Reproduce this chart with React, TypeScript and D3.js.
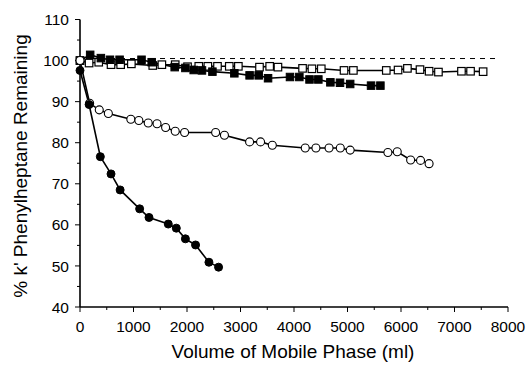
import React from "react";
import * as d3 from "d3";

const filledCircleX = [0, 170, 380, 580, 750, 1115, 1290, 1650, 1800, 1970, 2160, 2410, 2590];
const filledCircleY = [97.6, 89.3, 76.6, 72.4, 68.5, 63.9, 61.8, 60.2, 59.2, 56.6, 55.1, 50.9, 49.7];

const openCircleX = [0, 180, 360, 530, 950, 1100, 1275, 1440, 1600, 1780, 1955, 2535, 2700, 3170, 3375, 3595, 4210, 4410, 4655, 4865, 5050, 5755, 5930, 6180, 6365, 6525];
const openCircleY = [100, 89.6, 88.0, 87.1, 85.7, 85.4, 84.8, 84.6, 83.7, 82.8, 82.5, 82.5, 81.8, 80.2, 80.2, 79.4, 78.7, 78.7, 78.7, 78.7, 78.2, 77.6, 77.8, 75.8, 75.7, 74.9];

const filledSquareX = [0, 190, 390, 560, 740, 1150, 1340, 1770, 1970, 2125, 2280, 2475, 2885, 3170, 3340, 3515, 3925, 4100, 4290, 4455, 4680, 4860, 5050, 5440, 5615];
const filledSquareY = [100, 101.4, 100.6, 100.2, 100.2, 100.2, 99.6, 98.4, 98.2, 97.7, 97.6, 97.3, 96.9, 96.4, 96.4, 95.7, 96.0, 96.0, 95.4, 95.4, 94.7, 94.6, 94.3, 93.9, 93.9];

const openSquareX = [0, 170, 350, 580, 760, 960, 1360, 1530, 1780, 2010, 2220, 2390, 2570, 2790, 2960, 3355, 3545, 3700, 4160, 4335, 4510, 4935, 5110, 5725, 5945, 6120, 6355, 6525, 6700, 7130, 7300, 7535];
const openSquareY = [100, 99.4, 99.6, 99.0, 99.0, 99.2, 98.8, 99.0, 99.0, 98.5, 98.6, 98.6, 98.6, 98.6, 98.6, 98.4, 98.6, 98.4, 98.1, 98.0, 98.0, 97.6, 97.6, 97.6, 97.7, 98.1, 97.8, 97.4, 97.2, 97.4, 97.4, 97.3];

const xTicks = [0, 1000, 2000, 3000, 4000, 5000, 6000, 7000, 8000];
const yTicks = [40, 50, 60, 70, 80, 90, 100, 110];
const referenceLine = 100.5;

const xLabel = "Volume of Mobile Phase (ml)";
const yLabel = "% k' Phenylheptane Remaining";

export default function App() {
  const W = 529, H = 365;
  const x = d3.scaleLinear().domain([0, 8000]).range([80, 508]);
  const y = d3.scaleLinear().domain([40, 110]).range([307, 19.5]);
  const line = d3.line<[number, number]>().x(d => x(d[0])).y(d => y(d[1]));
  const font = "Arial, 'Liberation Sans', sans-serif";
  const zip = (a: number[], b: number[]) => a.map((v, i) => [v, b[i]] as [number, number]);

  const fc = zip(filledCircleX, filledCircleY);
  const oc = zip(openCircleX, openCircleY);
  const fs = zip(filledSquareX, filledSquareY);
  const os = zip(openSquareX, openSquareY);

  const xMinor = d3.range(0, 8001, 500);
  const yMinor = d3.range(40, 111, 5);
  const sq = 7.5;
  const r = 4;

  return (
    <svg width={W} height={H} style={{ position: "absolute", left: 0, top: 0, background: "#fff" }}>
      <rect width={W} height={H} fill="#fff" />
      <line x1={x(0)} x2={x(7800)} y1={y(referenceLine)} y2={y(referenceLine)} stroke="#000" strokeWidth={1} strokeDasharray="5,5" />
      <line x1={x(0)} x2={x(0)} y1={y(110)} y2={y(40)} stroke="#000" strokeWidth={1.6} />
      <line x1={x(0)} x2={x(8000)} y1={y(40)} y2={y(40)} stroke="#000" strokeWidth={1.6} />
      {yMinor.map(v => (
        <line key={"yt" + v} x1={x(0) - (v % 10 === 0 ? 5 : 3)} x2={x(0)} y1={y(v)} y2={y(v)} stroke="#000" strokeWidth={1} />
      ))}
      {xMinor.map(v => (
        <line key={"xt" + v} x1={x(v)} x2={x(v)} y1={y(40)} y2={y(40) + (v % 1000 === 0 ? 5 : 3)} stroke="#000" strokeWidth={1} />
      ))}
      {yTicks.map(v => (
        <text key={"yl" + v} x={x(0) - 11} y={y(v)} dy="0.36em" textAnchor="end" fontFamily={font} fontSize={15.5} fill="#000">{v}</text>
      ))}
      {xTicks.map(v => (
        <text key={"xl" + v} x={x(v)} y={332} textAnchor="middle" fontFamily={font} fontSize={15.5} fill="#000">{v}</text>
      ))}
      <text x={293} y={358} textAnchor="middle" fontFamily={font} fontSize={19} fill="#000">{xLabel}</text>
      <text transform={`translate(27,${166}) rotate(-90)`} textAnchor="middle" fontFamily={font} fontSize={19} fill="#000">{yLabel}</text>

      {[os, fs, oc, fc].map((d, i) => (
        <path key={"l" + i} d={line(d) || ""} fill="none" stroke="#000" strokeWidth={1.6} />
      ))}
      {os.map((d, i) => (
        <rect key={"os" + i} x={x(d[0]) - sq / 2} y={y(d[1]) - sq / 2} width={sq} height={sq} fill="#fff" stroke="#000" strokeWidth={1.2} />
      ))}
      {fs.map((d, i) => (
        <rect key={"fs" + i} x={x(d[0]) - sq / 2} y={y(d[1]) - sq / 2} width={sq} height={sq} fill="#000" stroke="#000" strokeWidth={1} />
      ))}
      {oc.map((d, i) => (
        <circle key={"oc" + i} cx={x(d[0])} cy={y(d[1])} r={r} fill="#fff" stroke="#000" strokeWidth={1.1} />
      ))}
      {fc.map((d, i) => (
        <circle key={"fc" + i} cx={x(d[0])} cy={y(d[1])} r={r} fill="#000" stroke="#000" strokeWidth={1} />
      ))}
    </svg>
  );
}
